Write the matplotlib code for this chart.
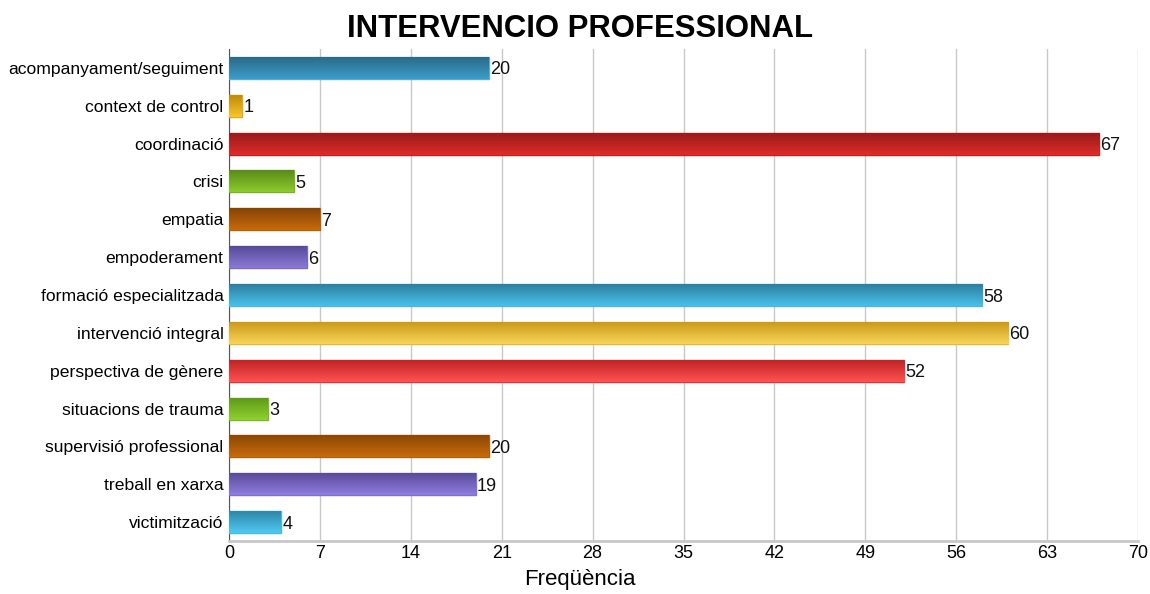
import matplotlib
matplotlib.use("Agg")
import matplotlib.pyplot as plt
import numpy as np
from matplotlib.colors import LinearSegmentedColormap

categories = ["acompanyament/seguiment", "context de control", "coordinació", "crisi",
              "empatia", "empoderament", "formació especialitzada", "intervenció integral",
              "perspectiva de gènere", "situacions de trauma", "supervisió professional",
              "treball en xarxa", "victimització"]
values = [20, 1, 67, 5, 7, 6, 58, 60, 52, 3, 20, 19, 4]
xticks = [0, 7, 14, 21, 28, 35, 42, 49, 56, 63, 70]

# (top colour, bottom colour, edge)
grads = [("#2b6a88", "#3b9ec8", "#5aaed0"),
         ("#c08a08", "#f7c52e", "#e0a820"),
         ("#9a1c1c", "#e02a2a", "#c02020"),
         ("#5a8a18", "#8ccc2e", "#7ab028"),
         ("#854406", "#c86a0a", "#b06010"),
         ("#574a98", "#8a7ad6", "#7a6ac6"),
         ("#2d7fa0", "#48c0ea", "#4ab8e0"),
         ("#cc9a1a", "#f8d458", "#e8b830"),
         ("#c02424", "#ff5252", "#e03838"),
         ("#5e9a18", "#90d030", "#78b828"),
         ("#8a4806", "#c86a0a", "#b06010"),
         ("#5a4a9a", "#8e7ede", "#8070d0"),
         ("#2d88a8", "#50c8f2", "#48b8e0")]

plt.rcParams['font.family'] = ['Liberation Sans', 'DejaVu Sans']
fig = plt.figure(figsize=(11.5, 5.94), dpi=100)
ax = fig.add_axes([229/1150, 1-541/594, (1138-229)/1150, (541-49)/594])

y = np.arange(len(categories))
bars = ax.barh(y, values, height=0.58, color="none", zorder=3)
grad = np.linspace(0, 1, 100).reshape(-1, 1)
for i, b in enumerate(bars):
    top, bot, edge = grads[i]
    cmap = LinearSegmentedColormap.from_list("g%d" % i, [top, bot])
    x0, y0 = b.get_x(), b.get_y()
    w, h = b.get_width(), b.get_height()
    im = ax.imshow(grad, cmap=cmap, aspect="auto", extent=(x0, x0 + w, y0 + h, y0),
                   origin="upper", zorder=3, interpolation="bicubic")
    im.set_clip_path(b)
    b.set_edgecolor(edge)
    b.set_linewidth(1.0)
    ax.text(x0 + w + 0.1, y0 + h / 2, str(values[i]), va="center_baseline", ha="left",
            fontsize=13, color="#111111", zorder=4)

ax.set_xlim(0, 70)
ax.set_ylim(len(categories) - 0.5, -0.5)
ax.set_xticks(xticks)
ax.set_yticks(y)
ax.set_yticklabels(categories, fontsize=12.6)
ax.tick_params(axis="x", labelsize=13, length=0, pad=3)
ax.tick_params(axis="y", length=0, pad=4)
ax.xaxis.grid(True, color="#c8c8c8", linewidth=1, zorder=0)
ax.set_axisbelow(True)
for s in ["top", "right"]:
    ax.spines[s].set_visible(False)
ax.spines["left"].set_color("#555555")
ax.spines["bottom"].set_color("#c8c8c8")
ax.spines["bottom"].set_linewidth(2)
fig.text(580/1150, 1-580/594, "Freqüència", ha="center", va="center", fontsize=16)
fig.text(580/1150, 1-29/594, "INTERVENCIO PROFESSIONAL", ha="center", va="center",
         fontsize=22.4, fontweight="bold")
fig.savefig("out.png", dpi=100)
